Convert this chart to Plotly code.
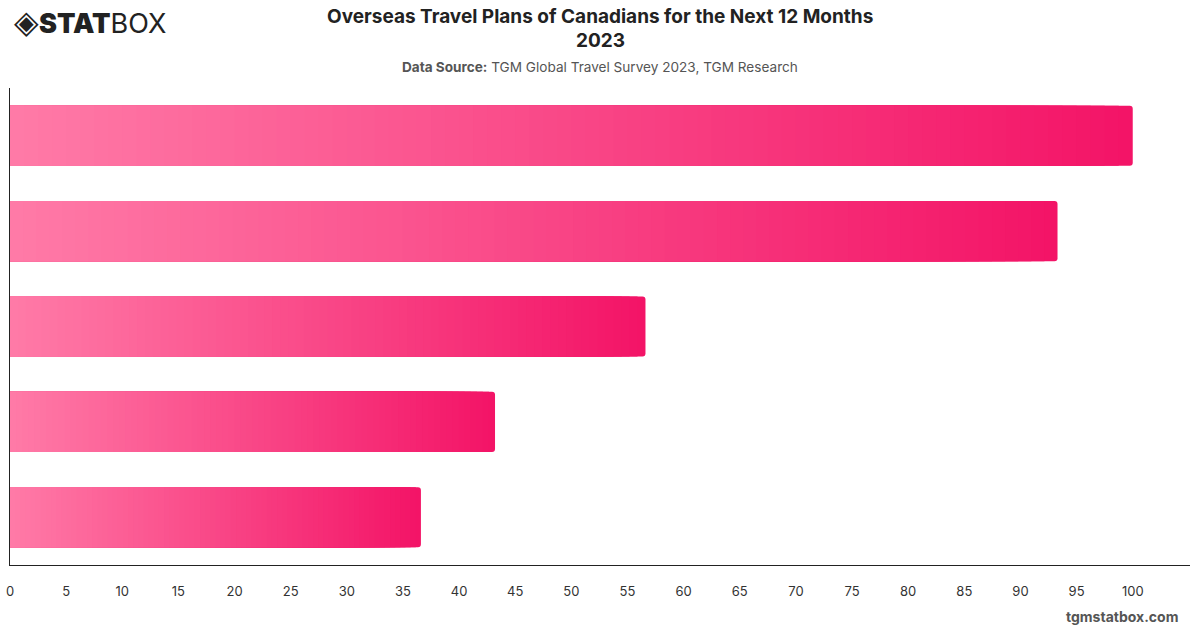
import plotly.graph_objects as go

categories = ["Category A", "Category B", "Category C", "Category D", "Category E"]
values = [100.0, 93.3, 56.6, 43.2, 36.6]
tick_vals = list(range(0, 101, 5))
tick_text = [str(v) for v in tick_vals]

light = (255, 122, 167)
dark = (243, 20, 103)
N = 80

W, H = 1200, 628
ML, MR, MT, MB = 10, 10, 88, 63

fig = go.Figure()
# Gradient per bar: overlaid bars, shortest (lightest) on top
for k in range(N):
    frac = (N - k) / N
    t = k / (N - 1)
    c = tuple(round(dark[i] + (light[i] - dark[i]) * t) for i in range(3))
    fig.add_trace(go.Bar(
        y=categories,
        x=[v * frac for v in values],
        orientation="h",
        marker=dict(color="rgb(%d,%d,%d)" % c, line=dict(width=0)),
        hoverinfo="skip",
        showlegend=False,
    ))

pw, ph = W - ML - MR, H - MT - MB
def px2paper(xp, yp):
    return (xp - ML) / pw, (H - MB - yp) / ph

def ann(text, xp, yp, xanchor, size, color, **kw):
    x, y = px2paper(xp, yp)
    return dict(text=text, x=x, y=y, xref="paper", yref="paper", xanchor=xanchor,
                yanchor="middle", showarrow=False, font=dict(size=size, color=color), **kw)

fig.update_layout(
    width=W, height=H,
    barmode="overlay",
    bargap=0.37,
    barcornerradius=3,
    plot_bgcolor="white",
    paper_bgcolor="white",
    margin=dict(l=ML, r=MR, t=MT, b=MB, autoexpand=False),
    font=dict(family="Inter, Roboto, sans-serif", color="#333"),
    xaxis=dict(
        range=[0, 105.1],
        tickvals=tick_vals, ticktext=tick_text,
        showgrid=False, zeroline=False, automargin=False,
        showline=True, linecolor="#222", linewidth=1,
        ticks="", ticklabelstandoff=14,
        tickfont=dict(size=13, color="#333"),
    ),
    yaxis=dict(
        autorange="reversed", automargin=False,
        showticklabels=False, showgrid=False, zeroline=False,
        showline=True, linecolor="#222", linewidth=1, ticks="",
    ),
    annotations=[
        ann("<b>Overseas Travel Plans of Canadians for the Next 12 Months</b>", 600, 17, "center", 19, "#222"),
        ann("<b>2023</b>", 600, 40, "center", 19, "#222"),
        ann("<b>Data Source:</b> TGM Global Travel Survey 2023, TGM Research", 600, 67, "center", 13.6, "#555"),
        ann("<b>tgmstatbox.com</b>", 1180, 616, "right", 14, "#555"),
        ann("<span style='font-size:32px'>◈</span><span style='font-weight:900'>STAT</span>BOX",
            12, 21, "left", 27, "#222"),
    ],
)

fig.write_html("out.html")
